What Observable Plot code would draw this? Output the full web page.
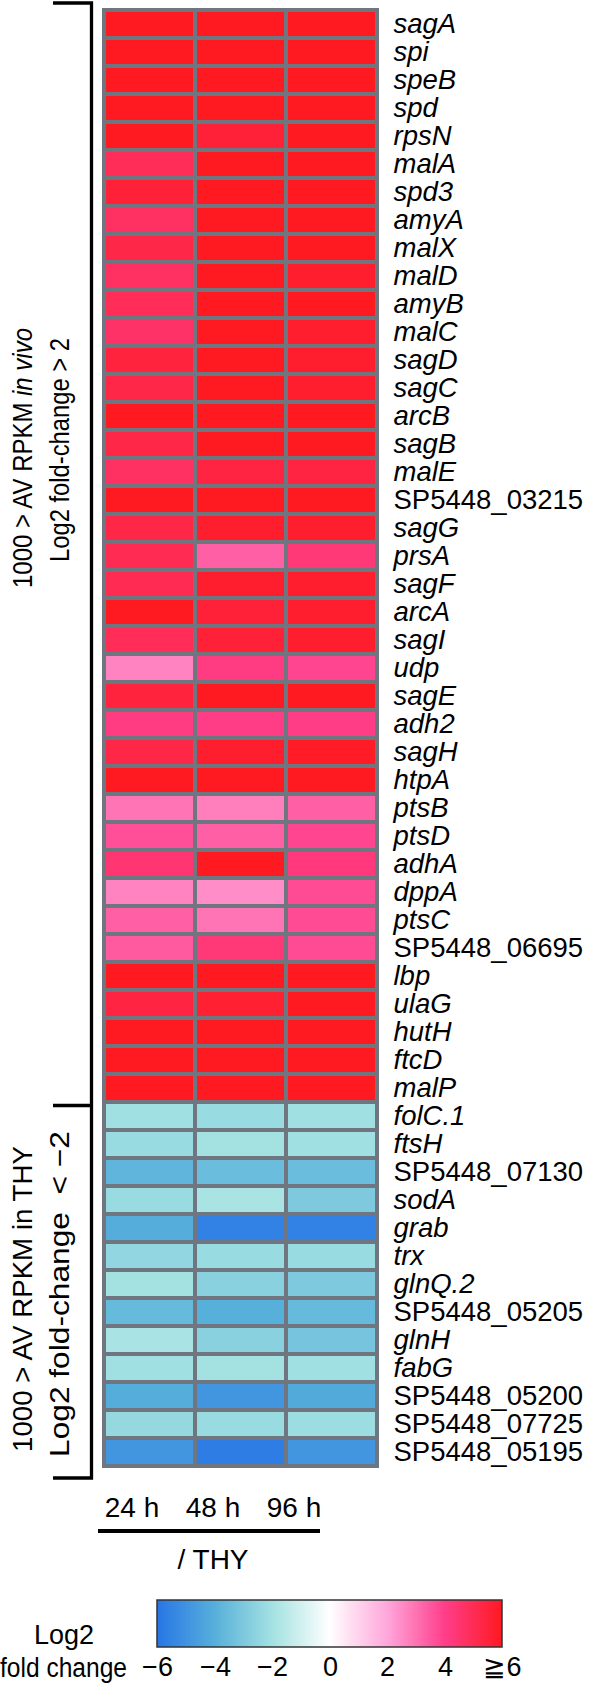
<!DOCTYPE html>
<html>
<head>
<meta charset="utf-8">
<script src="https://cdn.jsdelivr.net/npm/d3@7"></script>
<script src="https://cdn.jsdelivr.net/npm/@observablehq/plot@0.6"></script>
<style>
  html, body { margin: 0; padding: 0; background: #fff; }
  #root { width: 600px; }
  #root svg { display: block; }
</style>
</head>
<body>
<div id="root"></div>
<script>
const times = ["24 h", "48 h", "96 h"];
const genes = ["sagA","spi","speB","spd","rpsN","malA","spd3","amyA","malX","malD","amyB","malC","sagD","sagC","arcB","sagB","malE","SP5448_03215","sagG","prsA","sagF","arcA","sagI","udp","sagE","adh2","sagH","htpA","ptsB","ptsD","adhA","dppA","ptsC","SP5448_06695","lbp","ulaG","hutH","ftcD","malP",
  "folC.1","ftsH","SP5448_07130","sodA","grab","trx","glnQ.2","SP5448_05205","glnH","fabG","SP5448_05200","SP5448_07725","SP5448_05195"];
const values24 = [6,6,6,6,6,5.0,5.6,4.8,5.3,4.8,5.0,4.7,5.5,5.3,6,5.3,4.8,6,5.3,5.1,5.1,6,5.0,2.7,5.5,4.2,5.3,6,3.0,3.7,4.5,2.7,3.4,3.5,6,5.4,6,6,6,
  -2.1,-2.3,-3.8,-2.3,-4.1,-2.5,-2.0,-3.6,-1.9,-2.1,-4.1,-2.4,-4.9];
const values48 = [6,6,6,6,5.6,6,6,6,6,6,6,6,6,6,6,6,5.4,6,5.8,3.4,5.8,5.6,5.6,4.2,6,4.1,5.8,6,2.8,3.4,6,2.5,3.0,4.4,6,5.7,6,6,6,
  -2.3,-2.0,-3.5,-1.9,-5.6,-2.3,-2.7,-4.0,-2.7,-2.0,-4.9,-2.3,-5.8];
const values96 = [6,6,6,6,6,6,6,6,6,5.8,6,5.8,5.8,5.8,6,6,5.4,6,5.8,4.4,5.8,5.8,5.8,3.9,6,4.1,5.9,6,3.4,3.9,4.3,3.8,3.8,3.8,6,6,6,6,6,
  -2.1,-2.1,-3.5,-3.0,-5.6,-2.3,-3.0,-3.6,-3.2,-2.1,-4.2,-2.2,-4.9];
const upGroupLabel = ["1000 > AV RPKM ", "in vivo"];
const upGroupLabel2 = "Log2 fold-change > 2";
const downGroupLabel = "1000 > AV RPKM in THY";
const downGroupLabel2 = "Log2 fold-change  < \u22122";
const firstDownGene = "folC.1";
const xGroupLabel = "/ THY";
const legendTitle = ["Log2", "fold change"];
const legendTicks = [-6, -4, -2, 0, 2, 4, 6];
const legendTickLabels = ["\u22126", "\u22124", "\u22122", "0", "2", "4", "\u22676"];
const colorStops = [-6, -4, -2, 0, 2, 4, 6];
const colorRange = ["#2877e6", "#57b0da", "#a4e2e2", "#ffffff", "#ffa8dc", "#ff3f8c", "#ff1a22"];

const seriesByTime = {"24 h": values24, "48 h": values48, "96 h": values96};
const table = [];
for (const t of times) genes.forEach((g, i) => table.push({time: t, gene: g, value: seriesByTime[t][i]}));
const isLocus = g => g.startsWith("SP5448_");
const FONT = "'Liberation Sans', Arial, Helvetica, sans-serif";
const colorScale = {type: "linear", domain: colorStops, range: colorRange, clamp: true};

const root = document.getElementById("root");

// Main heatmap
const chart = Plot.plot({
  width: 600, height: 1481,
  marginTop: 3, marginBottom: 8, marginLeft: 104, marginRight: 223,
  style: {fontFamily: FONT, background: "white", overflow: "visible"},
  x: {type: "band", domain: times, axis: null, padding: 0},
  y: {type: "band", domain: genes, axis: null, padding: 0},
  color: colorScale,
  marks: [
    Plot.cell(table, {x: "time", y: "gene", fill: "value", stroke: "#6f7680", strokeWidth: 4, inset: 0}),
    Plot.text(genes.filter(g => !isLocus(g)), {y: d => d, text: d => d, frameAnchor: "right", lineAnchor: "middle", textAnchor: "start", dx: 16, fontSize: 27.5, fontStyle: "italic", fill: "black"}),
    Plot.text(genes.filter(isLocus), {y: d => d, text: d => d, frameAnchor: "right", lineAnchor: "middle", textAnchor: "start", dx: 16, fontSize: 27.5, fill: "black"})
  ]
});
root.appendChild(chart);

// bracket and group labels
{
  const ys = chart.scale("y");
  const step = (ys.range[1] - ys.range[0]) / ys.domain.length;
  const yTop = ys.range[0];
  const yMid = ys.range[0] + ys.domain.indexOf(firstDownGene) * step;
  const yBot = ys.range[1] + 5;
  const svg = d3.select(chart);
  const g = svg.append("g").attr("stroke", "black").attr("stroke-width", 3.3).attr("fill", "none");
  const bx = 91.5, lx = 53;
  g.append("path").attr("d", `M${lx},${yTop}H${bx}V${yBot}H${lx}`);
  g.append("path").attr("d", `M${lx},${yMid}H${bx}`);
  const lab = (x, y, len) => svg.append("text")
    .attr("transform", `translate(${x},${y}) rotate(-90)`)
    .attr("text-anchor", "middle").attr("dominant-baseline", "central")
    .attr("font-family", FONT).attr("font-size", 28).attr("fill", "black")
    .attr("textLength", len).attr("lengthAdjust", "spacingAndGlyphs")
    .style("white-space", "pre");
  const t1 = lab(22, 458, 260);
  t1.append("tspan").text(upGroupLabel[0]);
  t1.append("tspan").attr("font-style", "italic").text(upGroupLabel[1]);
  lab(59, 450, 224).text(upGroupLabel2);
  lab(22, 1299, 306).text(downGroupLabel);
  lab(59, 1294, 326).text(downGroupLabel2);
}

// Footer: time labels
const footer = Plot.plot({
  width: 600, height: 100,
  marginTop: 0, marginBottom: 0, marginLeft: 90, marginRight: 265,
  style: {fontFamily: FONT, background: "white", overflow: "visible"},
  x: {type: "band", domain: times, axis: null, padding: 0},
  marks: [
    Plot.text(times, {x: d => d, text: d => d, frameAnchor: "top", lineAnchor: "middle", dy: 27, fontSize: 28, fill: "black"}),
    Plot.text([xGroupLabel], {text: d => d, frameAnchor: "top", lineAnchor: "middle", dy: 79, fontSize: 28, fill: "black"})
  ]
});
d3.select(footer).append("line").attr("x1", 98).attr("x2", 320).attr("y1", 50).attr("y2", 50)
  .attr("stroke", "black").attr("stroke-width", 4);
root.appendChild(footer);

// Colour legend
const legendMap = new Map(legendTicks.map((v, i) => [v, legendTickLabels[i]]));
const legend = Plot.legend({
  color: colorScale,
  width: 600, height: 105,
  marginTop: 19, marginBottom: 39, marginLeft: 157, marginRight: 98,
  ticks: legendTicks, tickFormat: d => legendMap.get(d), tickSize: 7,
  style: {fontFamily: FONT, fontSize: "27px", background: "white", overflow: "visible"}
});
{
  const L = d3.select(legend);
  L.selectAll(".tick line").remove();
  L.selectAll("text").attr("font-size", 27).attr("font-family", FONT).attr("fill", "black");
  const img = legend.querySelector("image");
  if (img) {
    L.append("rect").attr("x", img.getAttribute("x")).attr("y", img.getAttribute("y"))
      .attr("width", img.getAttribute("width")).attr("height", img.getAttribute("height"))
      .attr("fill", "none").attr("stroke", "#333").attr("stroke-width", 1.5);
  }
  L.append("text").attr("x", 64).attr("y", 63).attr("text-anchor", "middle")
    .attr("font-family", FONT).attr("font-size", 27).attr("fill", "black").text(legendTitle[0]);
  L.append("text").attr("x", 63.5).attr("y", 96).attr("text-anchor", "middle")
    .attr("font-family", FONT).attr("font-size", 27).attr("fill", "black")
    .attr("textLength", 127).attr("lengthAdjust", "spacingAndGlyphs").text(legendTitle[1]);
}
root.appendChild(legend);
</script>
</body>
</html>
